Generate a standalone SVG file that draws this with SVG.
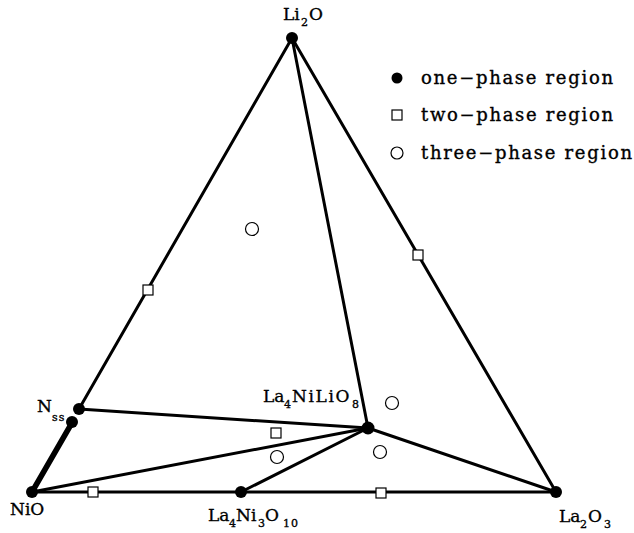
<svg xmlns="http://www.w3.org/2000/svg" width="634" height="533" viewBox="0 0 634 533">
<style>
.ln{stroke:#000;stroke-width:3;fill:none;stroke-linecap:round}
.thk{stroke:#000;stroke-width:5.5;fill:none;stroke-linecap:round}
.dot{fill:#000}
.sq{fill:#fff;stroke:#000;stroke-width:1.2}
.ci{fill:#fff;stroke:#000;stroke-width:1.2}
text{font-family:"DejaVu Serif","Liberation Serif",serif;fill:#000;stroke:#000;stroke-width:0.35}
.lb{font-size:17px}
.sb{font-size:11px}
.lg{font-size:18px}
</style>
<rect width="634" height="533" fill="#fff"/>
<g id="connectors">
<line class="ln" x1="292" y1="38" x2="79" y2="409"/>
<line class="thk" x1="73" y1="421" x2="32" y2="492"/>
<line class="ln" x1="292" y1="38" x2="556" y2="492"/>
<line class="ln" x1="292" y1="38" x2="368" y2="428"/>
<line class="ln" x1="32" y1="492" x2="556" y2="492"/>
<line class="ln" x1="79" y1="409" x2="368" y2="428"/>
<line class="ln" x1="32" y1="492" x2="368" y2="428"/>
<line class="ln" x1="241" y1="492" x2="368" y2="428"/>
<line class="ln" x1="368" y1="428" x2="556" y2="492"/>
</g>
<g id="Li2O"><circle class="dot" cx="292" cy="38" r="6"/>
<text class="lb" x="283" y="20">Li<tspan class="sb" x="301" y="26">2</tspan><tspan x="309" y="20">O</tspan></text></g>
<g id="NiO"><circle class="dot" cx="32" cy="492" r="6"/>
<text class="lb" x="10" y="515">NiO</text></g>
<g id="La2O3"><circle class="dot" cx="556" cy="492" r="6"/>
<text class="lb" x="559" y="522">La<tspan class="sb" x="580" y="528">2</tspan><tspan x="588" y="522">O</tspan><tspan class="sb" x="604" y="528">3</tspan></text></g>
<g id="Nss"><circle class="dot" cx="79" cy="409" r="6"/><circle class="dot" cx="72" cy="422" r="6"/>
<text class="lb" x="37" y="412">N<tspan class="sb" x="52" y="421" letter-spacing="1">ss</tspan></text></g>
<g id="La4NiLiO8"><circle class="dot" cx="368" cy="428" r="6.5"/>
<text class="lb" x="263" y="402">La<tspan class="sb" x="284" y="408">4</tspan><tspan x="292" y="402" letter-spacing="1.6">NiLiO</tspan><tspan class="sb" x="352" y="408">8</tspan></text></g>
<g id="La4Ni3O10"><circle class="dot" cx="241" cy="492" r="6"/>
<text class="lb" x="208" y="521">La<tspan class="sb" x="229" y="527">4</tspan><tspan x="236" y="521">Ni</tspan><tspan class="sb" x="258" y="527">3</tspan><tspan x="265" y="521">O</tspan><tspan class="sb" x="283" y="527" letter-spacing="1">10</tspan></text></g>
<g id="markers">
<rect class="sq" x="143" y="285" width="10" height="10"/>
<rect class="sq" x="413" y="250" width="10" height="10"/>
<rect class="sq" x="88" y="487" width="10" height="10"/>
<rect class="sq" x="271" y="428" width="10" height="10"/>
<rect class="sq" x="376" y="488" width="10" height="10"/>
<circle class="ci" cx="252" cy="229" r="6.5"/>
<circle class="ci" cx="392" cy="403" r="6.5"/>
<circle class="ci" cx="277" cy="457" r="6.5"/>
<circle class="ci" cx="380" cy="452" r="6.5"/>
</g>
<g id="legend">
<circle class="dot" cx="397" cy="78" r="5.5"/>
<rect class="sq" x="392" y="110" width="10" height="10"/>
<circle class="ci" cx="397" cy="153" r="6"/>
<text class="lg" x="421" y="84" textLength="192" lengthAdjust="spacing">one−phase region</text>
<text class="lg" x="421" y="121" textLength="192" lengthAdjust="spacing">two−phase region</text>
<text class="lg" x="421" y="159" textLength="211" lengthAdjust="spacing">three−phase region</text>
</g>
</svg>
